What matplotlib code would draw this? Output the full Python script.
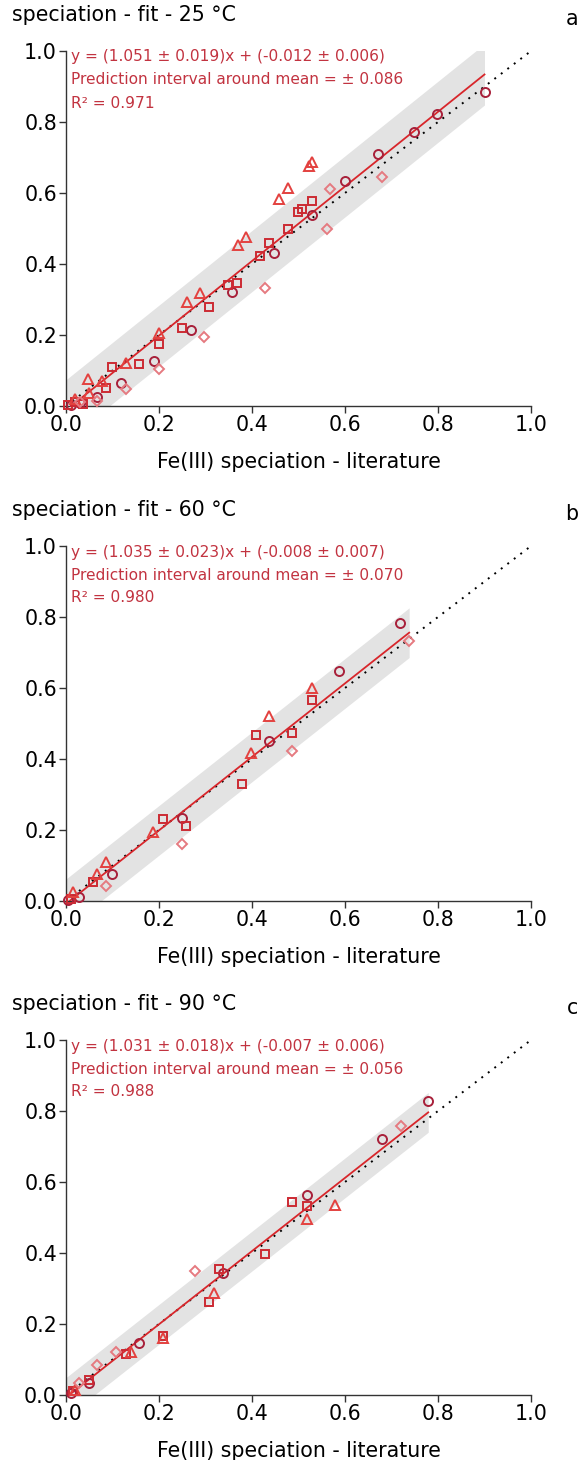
import matplotlib
matplotlib.use("Agg")
import matplotlib.pyplot as plt
import numpy as np

plt.rcParams['font.family'] = ['DejaVu Sans']

# ---- data: Fe(III) speciation, literature (x) vs fit (y) ----
temps = ["25", "60", "90"]
letters = ["a", "b", "c"]

slopes = [1.051, 1.035, 1.031]
slope_err = [0.019, 0.023, 0.018]
intercepts = [-0.012, -0.008, -0.007]
intercept_err = [0.006, 0.007, 0.006]
pred_int = [0.086, 0.070, 0.056]
r2 = [0.971, 0.980, 0.988]

# 25 °C
a_circ_x = [0.900, 0.798, 0.748, 0.670, 0.599, 0.528, 0.448, 0.358, 0.268, 0.189, 0.118, 0.067, 0.030, 0.010]
a_circ_y = [0.885, 0.822, 0.773, 0.711, 0.634, 0.538, 0.432, 0.320, 0.214, 0.128, 0.064, 0.026, 0.008, 0.003]
a_sq_x = [0.528, 0.508, 0.498, 0.478, 0.437, 0.417, 0.367, 0.348, 0.308, 0.249, 0.199, 0.158, 0.098, 0.087, 0.037, 0.020, 0.005]
a_sq_y = [0.577, 0.554, 0.547, 0.499, 0.460, 0.423, 0.347, 0.341, 0.278, 0.219, 0.175, 0.117, 0.111, 0.052, 0.006, 0.012, 0.002]
a_tri_x = [0.530, 0.523, 0.478, 0.458, 0.387, 0.369, 0.288, 0.260, 0.199, 0.129, 0.078, 0.048, 0.049, 0.020]
a_tri_y = [0.686, 0.677, 0.613, 0.582, 0.475, 0.453, 0.319, 0.294, 0.206, 0.122, 0.070, 0.075, 0.037, 0.020]
a_dia_x = [0.679, 0.568, 0.561, 0.428, 0.297, 0.199, 0.129, 0.067, 0.030]
a_dia_y = [0.646, 0.610, 0.499, 0.331, 0.194, 0.103, 0.047, 0.015, 0.010]

# 60 °C
b_circ_x = [0.718, 0.588, 0.437, 0.249, 0.098, 0.029, 0.005]
b_circ_y = [0.783, 0.649, 0.452, 0.234, 0.076, 0.010, 0.003]
b_sq_x = [0.528, 0.487, 0.409, 0.378, 0.208, 0.258, 0.057, 0.010]
b_sq_y = [0.565, 0.474, 0.469, 0.329, 0.230, 0.211, 0.054, 0.005]
b_tri_x = [0.528, 0.437, 0.397, 0.188, 0.087, 0.066, 0.016]
b_tri_y = [0.599, 0.520, 0.417, 0.195, 0.109, 0.075, 0.026]
b_dia_x = [0.738, 0.487, 0.249, 0.087]
b_dia_y = [0.731, 0.422, 0.160, 0.042]

# 90 °C
c_circ_x = [0.779, 0.679, 0.518, 0.338, 0.158, 0.049, 0.010]
c_circ_y = [0.829, 0.722, 0.562, 0.344, 0.146, 0.033, 0.005]
c_sq_x = [0.487, 0.518, 0.429, 0.329, 0.308, 0.208, 0.129, 0.049, 0.015]
c_sq_y = [0.545, 0.531, 0.398, 0.356, 0.262, 0.165, 0.115, 0.042, 0.010]
c_tri_x = [0.578, 0.518, 0.318, 0.208, 0.140, 0.020]
c_tri_y = [0.535, 0.496, 0.286, 0.160, 0.120, 0.015]
c_dia_x = [0.720, 0.277, 0.108, 0.067, 0.027]
c_dia_y = [0.759, 0.348, 0.122, 0.084, 0.033]

panels = [
    [(a_circ_x, a_circ_y), (a_sq_x, a_sq_y), (a_tri_x, a_tri_y), (a_dia_x, a_dia_y)],
    [(b_circ_x, b_circ_y), (b_sq_x, b_sq_y), (b_tri_x, b_tri_y), (b_dia_x, b_dia_y)],
    [(c_circ_x, c_circ_y), (c_sq_x, c_sq_y), (c_tri_x, c_tri_y), (c_dia_x, c_dia_y)],
]

ticks = [0.0, 0.2, 0.4, 0.6, 0.8, 1.0]
tick_labels = ["0.0", "0.2", "0.4", "0.6", "0.8", "1.0"]

# ---- styling ----
markers = ["o", "s", "^", "D"]
marker_sizes = [6.5, 6.0, 7.0, 5.5]
marker_colors = ["#a8203a", "#cc2a33", "#e3413f", "#e57a80"]
text_red = "#c23340"
line_red = "#d8262b"
band_gray = "#e3e3e3"

W, H = 579, 1460
fig = plt.figure(figsize=(W / 100, H / 100), dpi=100)

ax_left, ax_right = 66, 531
tops = [51, 546, 1040]
ax_h = 355
big = 14.8

for i in range(3):
    top = tops[i]
    ax = fig.add_axes([ax_left / W, (H - top - ax_h) / H, (ax_right - ax_left) / W, ax_h / H])
    ax.set_xlim(0, 1)
    ax.set_ylim(0, 1)
    for s in ["top", "right"]:
        ax.spines[s].set_visible(False)
    for s in ["left", "bottom"]:
        ax.spines[s].set_color("#333333")
        ax.spines[s].set_linewidth(1.0)
    ax.set_xticks(ticks)
    ax.set_xticklabels(tick_labels)
    ax.set_yticks(ticks)
    ax.set_yticklabels(tick_labels)
    ax.tick_params(labelsize=big, length=5, width=1.0, color="#333333", pad=1.5)

    # all x values in the panel define the extent of fit + band
    all_x = np.concatenate([np.asarray(s[0]) for s in panels[i]])
    xfit = np.linspace(0, all_x.max(), 100)
    yfit = slopes[i] * xfit + intercepts[i]
    ax.fill_between(xfit, yfit - pred_int[i], yfit + pred_int[i], color=band_gray,
                    linewidth=0, zorder=1)
    ax.plot([0, 1], [0, 1], color="black", linestyle=(0, (1, 3.2)), linewidth=1.4, zorder=2)
    ax.plot(xfit, yfit, color=line_red, linewidth=1.3, zorder=3)

    for (xs, ys), m, ms, c in zip(panels[i], markers, marker_sizes, marker_colors):
        ax.plot(xs, ys, linestyle="none", marker=m, markersize=ms, markerfacecolor="none",
                markeredgecolor=c, markeredgewidth=1.4, zorder=4, clip_on=False)

    lines = [
        f"y = ({slopes[i]:.3f} ± {slope_err[i]:.3f})x + ({intercepts[i]:.3f} ± {intercept_err[i]:.3f})",
        f"Prediction interval around mean = ± {pred_int[i]:.3f}",
        f"R² = {r2[i]:.3f}",
    ]
    for k, t in enumerate(lines):
        ax.text(0.01, 1 - (6 + 23 * k) / ax_h, t, transform=ax.transAxes, color=text_red,
                fontsize=11.1, va="center", ha="left", zorder=5)

    ax.set_xlabel("Fe(III) speciation - literature", fontsize=big, labelpad=12)

    fig.text(12 / W, 1 - (top - 36) / H, f"speciation - fit - {temps[i]} °C",
             fontsize=big, ha="left", va="center")
    fig.text(572 / W, 1 - (top - 32) / H, letters[i], fontsize=big, ha="center", va="center")

fig.savefig("out.png", dpi=100)
